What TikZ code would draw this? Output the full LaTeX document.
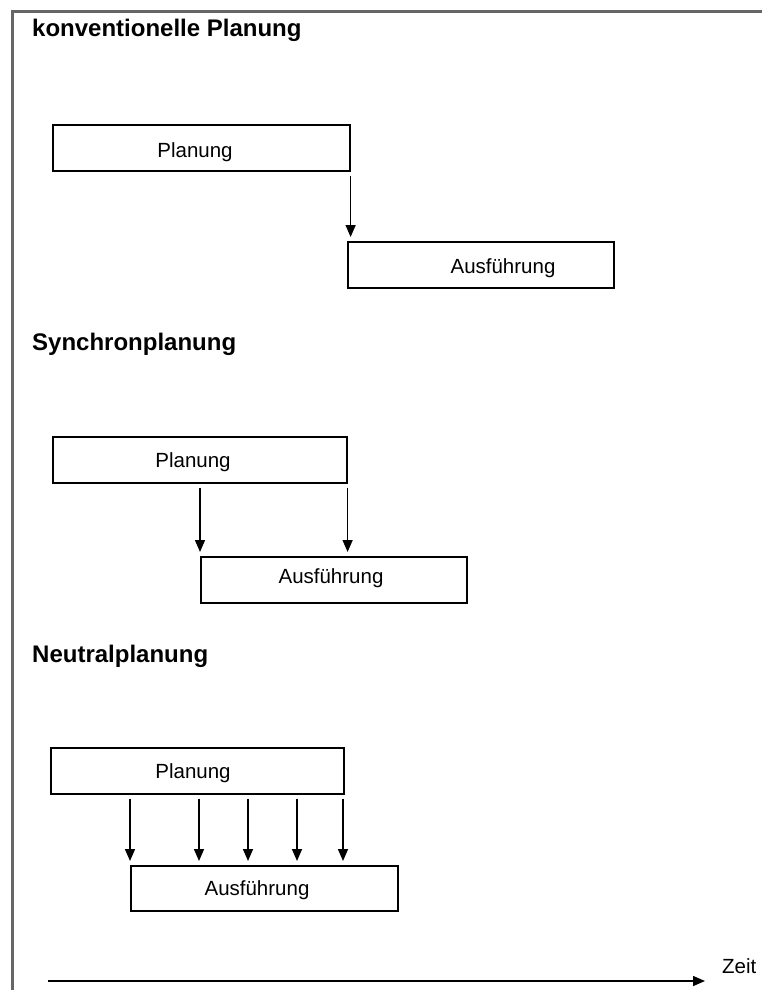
\documentclass[tikz,border=0pt]{standalone}
\usepackage{fontspec}
\setmainfont{Liberation Sans}
\usetikzlibrary{arrows.meta,positioning}
\definecolor{framegray}{HTML}{666666}

\begin{document}
\begin{tikzpicture}[x=1pt,y=-1pt,
  box/.style={draw,line width=1.6pt,anchor=north west,inner sep=0pt,minimum height=46pt},
  lbl/.style={font=\fontsize{20.5}{24}\selectfont,inner sep=0pt,anchor=base},
  head/.style={font=\bfseries\fontsize{24}{28}\selectfont,inner sep=0pt,anchor=base west},
  flow/.style={-{Triangle[length=12pt,width=10pt]},line width=1.5pt,shorten <=4pt,shorten >=4pt}]
  \useasboundingbox (0,0) rectangle (762,990);
  \draw[framegray,line width=3pt] (762,12) -- (12,12) -- (12,990);

  % konventionelle Planung
  \node[head] (h1) at (32,37) {konventionelle Planung};
  \node[box,minimum width=297pt] (p1) at (52,124) {};
  \node[lbl] (p1t) at (195,157) {Planung};
  \node[box,minimum width=266pt] (a1) at (347,241) {};
  \node[lbl] (a1t) at (503,273) {Ausführung};
  \draw[flow] (p1.south east) -- (p1.south east |- a1.north);

  % Synchronplanung
  \node[head] (h2) at (32,350) {Synchronplanung};
  \node[box,minimum width=294pt] (p2) at (52,436) {};
  \node[lbl] (p2t) at (193,467) {Planung};
  \node[box,minimum width=266pt] (a2) at (200,556) {};
  \node[lbl] (a2t) at (331,583) {Ausführung};
  \draw[flow] (a2.north west |- p2.south) -- (a2.north west);
  \draw[flow] (p2.south east) -- (p2.south east |- a2.north);

  % Neutralplanung
  \node[head] (h3) at (32,662) {Neutralplanung};
  \node[box,minimum width=293pt] (p3) at (50,747) {};
  \node[lbl] (p3t) at (193,778) {Planung};
  \node[box,minimum width=267pt,minimum height=45pt] (a3) at (130,865) {};
  \node[lbl] (a3t) at (257,895) {Ausführung};
  \foreach \x in {130,199,248,297,343}{
    \coordinate (c) at (\x,0);
    \draw[flow] (c |- p3.south) -- (c |- a3.north);
  }

  % Zeitachse
  \coordinate (t0) at (48,981);
  \coordinate (t1) at (705,981);
  \draw[flow,shorten <=0pt,shorten >=0pt] (t0) -- (t1);
  \node[lbl,anchor=base west] (zeit) at (722,973) {Zeit};
\end{tikzpicture}
\end{document}
